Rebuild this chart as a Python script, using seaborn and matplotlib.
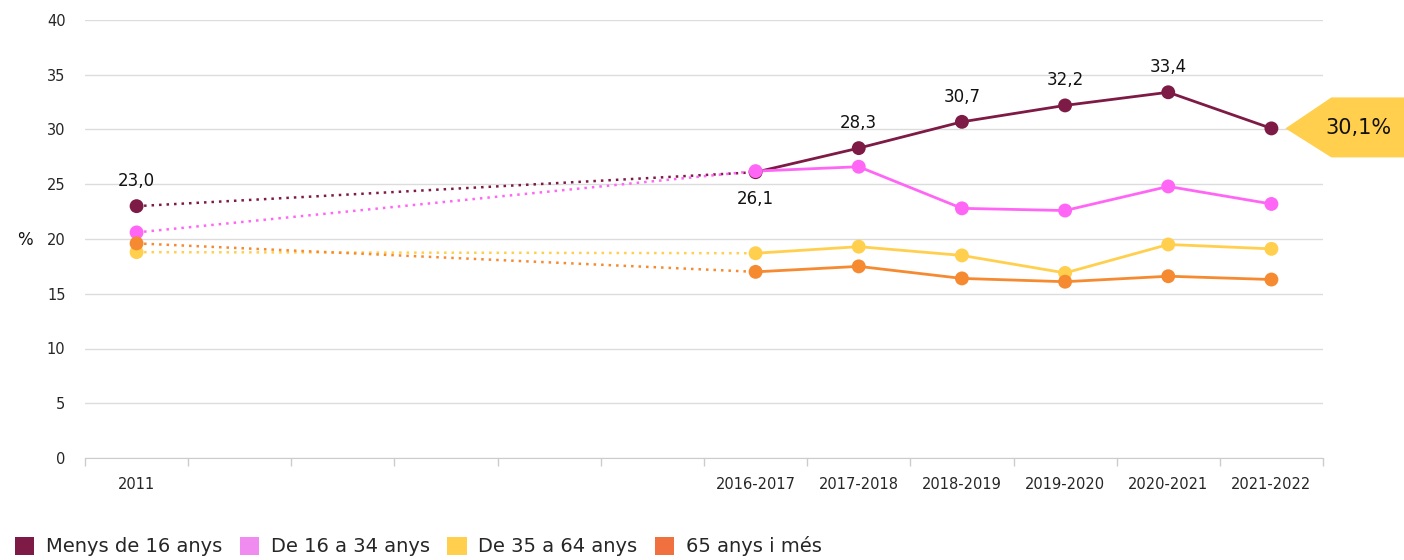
import matplotlib
matplotlib.use("Agg")
import matplotlib.pyplot as plt
from matplotlib.patches import Patch, Polygon
from matplotlib.transforms import IdentityTransform
import numpy as np
import pandas as pd
import seaborn as sns

# x slots: 2011, five empty years, then the survey periods
periods = ["2011", "", "", "", "", "", "2016-2017", "2017-2018", "2018-2019",
           "2019-2020", "2020-2021", "2021-2022"]
data_periods = ["2011", "2016-2017", "2017-2018", "2018-2019", "2019-2020",
                "2020-2021", "2021-2022"]

groups = ["Menys de 16 anys", "De 16 a 34 anys", "De 35 a 64 anys", "65 anys i més"]
menys_16 = [23.0, 26.1, 28.3, 30.7, 32.2, 33.4, 30.1]
de_16_34 = [20.6, 26.2, 26.6, 22.8, 22.6, 24.8, 23.2]
de_35_64 = [18.8, 18.7, 19.3, 18.5, 16.9, 19.5, 19.1]
mes_65 = [19.6, 17.0, 17.5, 16.4, 16.1, 16.6, 16.3]

line_colors = ["#7d1a45", "#ff66f5", "#ffcf4d", "#f68a30"]
legend_colors = ["#7d1a45", "#f08cf0", "#ffcf4d", "#f07040"]

series = [menys_16, de_16_34, de_35_64, mes_65]
rows = []
for g, vals in zip(groups, series):
    for p, v in zip(data_periods, vals):
        rows.append({"group": g, "period": p, "x": periods.index(p), "value": v})
df = pd.DataFrame(rows)

sns.set_style("white")
plt.rcParams["font.family"] = ["DejaVu Sans"]

fig = plt.figure(figsize=(14.04, 5.6), dpi=100)
ax = fig.add_axes([85 / 1404, 1 - 458 / 560, (1323 - 85) / 1404, (458 - 20) / 560])

palette = dict(zip(groups, line_colors))
early = df[df["x"] <= 6]
late = df[df["x"] >= 6]

sns.lineplot(data=early, x="x", y="value", hue="group", hue_order=groups,
             palette=palette, ax=ax, linewidth=1.8, linestyle=(0, (1, 2)),
             legend=False)
sns.lineplot(data=late, x="x", y="value", hue="group", hue_order=groups,
             palette=palette, ax=ax, linewidth=2.0, legend=False)
for g in groups:
    sns.scatterplot(data=df[df["group"] == g], x="x", y="value", color=palette[g],
                    s=100, edgecolor="none", ax=ax, legend=False, zorder=3)

# value labels for the youngest group
for p, v in zip(data_periods, menys_16):
    if p == "2021-2022":
        continue
    below = p == "2016-2017"
    ax.annotate(f"{v:.1f}".replace(".", ","), (periods.index(p), v),
                xytext=(0, -19 if below else 18), textcoords="offset points",
                ha="center", va="center", fontsize=12, color="#111111")

ax.set_xlim(-0.5, len(periods) - 0.5)
ax.set_ylim(0, 40)
ax.set_yticks(range(0, 41, 5))
ax.set_xticks(range(len(periods)))
ax.set_xticklabels(periods)
ax.set_xticks(np.arange(-0.5, len(periods), 1), minor=True)
ax.tick_params(axis="x", which="major", bottom=False, length=0, pad=14, labelsize=10.5)
ax.tick_params(axis="x", which="minor", bottom=True, length=6, width=1,
               color="#cccccc", direction="out")
ax.tick_params(axis="y", length=0, pad=14, labelsize=10.5)
ax.grid(axis="y", color="#dcdcdc", linewidth=1)
ax.set_axisbelow(True)
for s in ["left", "right", "top"]:
    ax.spines[s].set_visible(False)
ax.spines["bottom"].set_color("#cccccc")
ax.set_xlabel("")
ax.set_ylabel("")
fig.text(25 / 1404, 1 - 240 / 560, "%", ha="center", va="center", fontsize=12,
         color="#111111")

# callout for the last value
fig.canvas.draw()
px, py = ax.transData.transform((periods.index("2021-2022"), menys_16[-1]))
tip = px + 14
verts = [(tip, py), (tip + 46, py + 31), (1404, py + 31), (1404, py - 29), (tip + 46, py - 29)]
fig.patches.append(Polygon(verts, closed=True, transform=IdentityTransform(),
                           facecolor="#ffcf4d", edgecolor="none", figure=fig))
fig.text((tip + 73) / 1404, py / 560, f"{menys_16[-1]:.1f}".replace(".", ",") + "%",
         ha="center", va="center", fontsize=15, color="#111111")

handles = [Patch(facecolor=c, edgecolor="none") for c in legend_colors]
fig.legend(handles, groups, loc="lower left", bbox_to_anchor=(-0.002, -0.025),
           ncol=4, frameon=False, handlelength=1.0, handleheight=1.0,
           handletextpad=0.6, columnspacing=0.9, prop={"size": 14})

fig.savefig("out.png", dpi=100)
